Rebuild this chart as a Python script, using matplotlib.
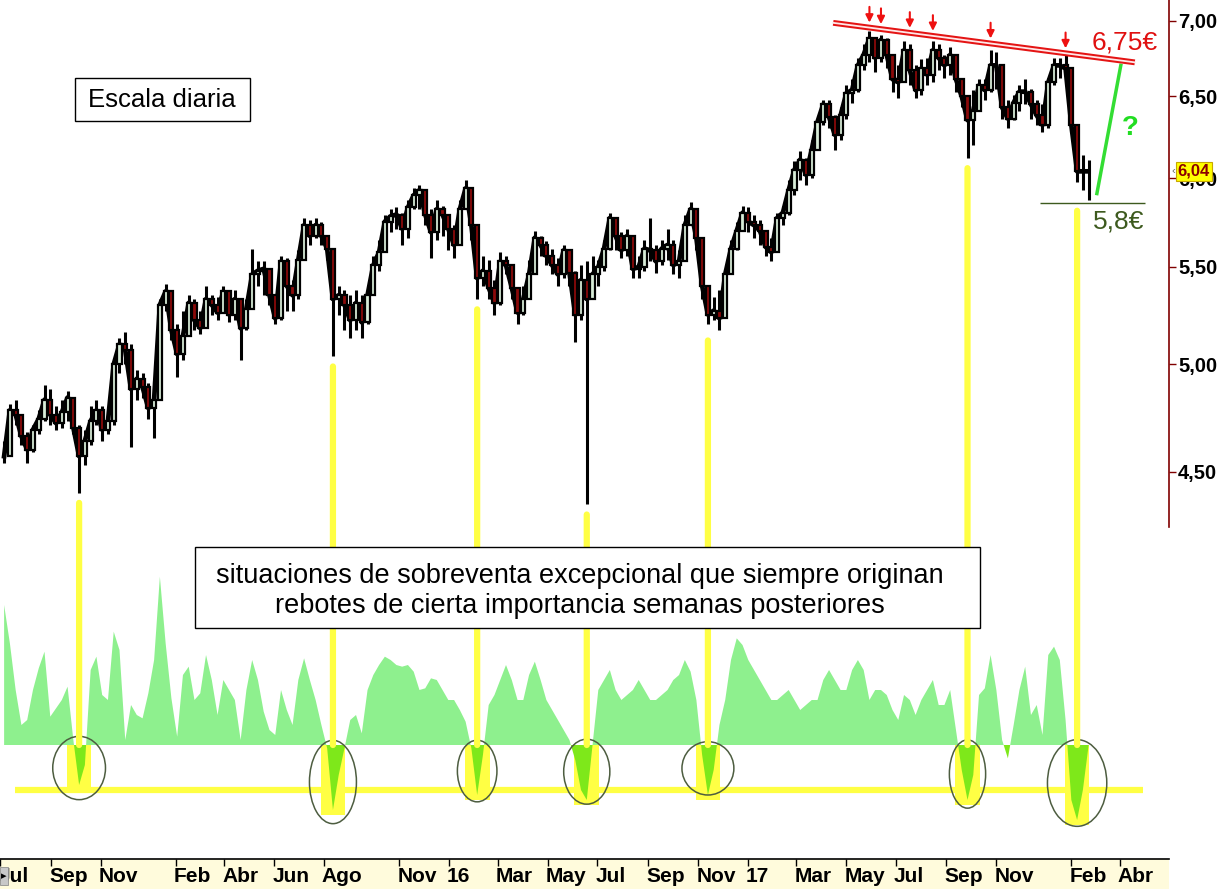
import numpy as np
import pandas as pd
import matplotlib
matplotlib.use('Agg')
import matplotlib.pyplot as plt
import matplotlib.dates as mdates
import matplotlib.transforms as mtransforms
from matplotlib.patches import Ellipse, Rectangle, ConnectionPatch

plt.rcParams['font.family'] = ['Liberation Sans', 'DejaVu Sans']

#%% datos semanales (cotizacion en euros)
cierre = [4.57, 4.78, 4.76, 4.66, 4.60, 4.69, 4.74, 4.83, 4.76, 4.72,
          4.77, 4.84, 4.70, 4.57, 4.64, 4.73, 4.78, 4.69, 4.73, 5.00,
          5.10, 5.07, 4.88, 4.93, 4.89, 4.79, 4.83, 5.30, 5.37, 5.17,
          5.05, 5.14, 5.31, 5.22, 5.18, 5.33, 5.30, 5.26, 5.37, 5.25,
          5.33, 5.18, 5.28, 5.46, 5.48, 5.49, 5.35, 5.23, 5.53, 5.40,
          5.35, 5.54, 5.73, 5.67, 5.73, 5.67, 5.60, 5.33, 5.35, 5.30,
          5.22, 5.31, 5.21, 5.35, 5.51, 5.58, 5.75, 5.78, 5.79, 5.71,
          5.83, 5.90, 5.93, 5.79, 5.69, 5.82, 5.79, 5.71, 5.62, 5.82,
          5.94, 5.73, 5.44, 5.48, 5.39, 5.31, 5.53, 5.51, 5.39, 5.26,
          5.33, 5.46, 5.66, 5.62, 5.56, 5.51, 5.46, 5.59, 5.47, 5.25,
          5.43, 5.33, 5.46, 5.50, 5.60, 5.77, 5.67, 5.59, 5.67, 5.49,
          5.50, 5.60, 5.59, 5.53, 5.60, 5.62, 5.51, 5.53, 5.73, 5.82,
          5.66, 5.40, 5.25, 5.27, 5.23, 5.46, 5.60, 5.70, 5.80, 5.75,
          5.73, 5.70, 5.61, 5.58, 5.77, 5.80, 5.93, 6.05, 6.11, 6.02,
          6.17, 6.34, 6.45, 6.37, 6.26, 6.38, 6.52, 6.54, 6.70, 6.77,
          6.88, 6.75, 6.87, 6.77, 6.61, 6.59, 6.80, 6.67, 6.54, 6.68,
          6.64, 6.80, 6.75, 6.70, 6.77, 6.61, 6.50, 6.35, 6.41, 6.57,
          6.54, 6.70, 6.70, 6.43, 6.36, 6.46, 6.53, 6.53, 6.45, 6.38,
          6.32, 6.59, 6.70, 6.70, 6.68, 6.32, 6.04, 6.04, 6.04]

maximo = [4.64, 4.81, 4.83, 4.76, 4.68, 4.71, 4.78, 4.90, 4.88, 4.80,
          4.83, 4.87, 4.83, 4.71, 4.69, 4.80, 4.83, 4.80, 4.78, 5.02,
          5.13, 5.16, 5.10, 4.97, 4.96, 4.91, 4.92, 5.33, 5.41, 5.38,
          5.20, 5.27, 5.35, 5.33, 5.27, 5.40, 5.35, 5.34, 5.40, 5.38,
          5.38, 5.33, 5.33, 5.60, 5.53, 5.53, 5.47, 5.35, 5.56, 5.55,
          5.43, 5.59, 5.77, 5.76, 5.77, 5.75, 5.67, 5.60, 5.40, 5.38,
          5.35, 5.38, 5.35, 5.38, 5.56, 5.65, 5.79, 5.82, 5.83, 5.80,
          5.87, 5.94, 5.96, 5.90, 5.82, 5.87, 5.84, 5.79, 5.73, 5.87,
          5.99, 5.90, 5.70, 5.56, 5.54, 5.43, 5.58, 5.56, 5.51, 5.38,
          5.40, 5.54, 5.70, 5.67, 5.64, 5.60, 5.55, 5.62, 5.60, 5.48,
          5.51, 5.53, 5.56, 5.54, 5.65, 5.80, 5.77, 5.69, 5.71, 5.67,
          5.56, 5.65, 5.77, 5.62, 5.65, 5.71, 5.65, 5.59, 5.79, 5.86,
          5.82, 5.65, 5.35, 5.34, 5.38, 5.49, 5.65, 5.75, 5.84, 5.83,
          5.79, 5.76, 5.70, 5.66, 5.80, 5.84, 5.99, 6.10, 6.16, 6.12,
          6.23, 6.36, 6.48, 6.48, 6.38, 6.43, 6.57, 6.61, 6.75, 6.84,
          6.93, 6.87, 6.90, 6.88, 6.77, 6.70, 6.86, 6.84, 6.70, 6.74,
          6.75, 6.86, 6.84, 6.77, 6.82, 6.77, 6.61, 6.51, 6.54, 6.61,
          6.61, 6.80, 6.79, 6.64, 6.48, 6.51, 6.57, 6.61, 6.55, 6.48,
          6.45, 6.62, 6.75, 6.75, 6.78, 6.68, 6.32, 6.14, 6.11]

minimo = [4.54, 4.60, 4.71, 4.62, 4.54, 4.59, 4.67, 4.73, 4.71, 4.69,
          4.70, 4.73, 4.67, 4.41, 4.53, 4.62, 4.71, 4.64, 4.67, 4.71,
          4.96, 5.00, 4.61, 4.83, 4.84, 4.74, 4.65, 4.85, 5.27, 5.12,
          4.94, 5.02, 5.15, 5.17, 5.15, 5.20, 5.25, 5.22, 5.26, 5.21,
          5.22, 5.02, 5.17, 5.30, 5.40, 5.35, 5.30, 5.20, 5.22, 5.27,
          5.27, 5.33, 5.56, 5.62, 5.66, 5.62, 5.54, 5.04, 5.25, 5.17,
          5.13, 5.17, 5.13, 5.20, 5.35, 5.48, 5.59, 5.69, 5.71, 5.62,
          5.66, 5.82, 5.82, 5.73, 5.55, 5.65, 5.67, 5.59, 5.55, 5.62,
          5.82, 5.65, 5.33, 5.40, 5.33, 5.25, 5.30, 5.46, 5.33, 5.20,
          5.25, 5.33, 5.48, 5.56, 5.51, 5.46, 5.40, 5.44, 5.40, 5.11,
          5.22, 4.36, 5.38, 5.40, 5.48, 5.59, 5.59, 5.55, 5.56, 5.44,
          5.44, 5.48, 5.53, 5.47, 5.51, 5.54, 5.46, 5.44, 5.53, 5.73,
          5.59, 5.33, 5.20, 5.22, 5.17, 5.33, 5.46, 5.59, 5.70, 5.69,
          5.66, 5.62, 5.56, 5.53, 5.58, 5.73, 5.79, 5.90, 5.99, 5.96,
          6.00, 6.17, 6.32, 6.30, 6.17, 6.23, 6.36, 6.46, 6.53, 6.67,
          6.72, 6.66, 6.72, 6.68, 6.53, 6.49, 6.61, 6.57, 6.49, 6.51,
          6.57, 6.59, 6.67, 6.62, 6.64, 6.53, 6.43, 6.12, 6.20, 6.41,
          6.48, 6.53, 6.55, 6.36, 6.30, 6.35, 6.41, 6.45, 6.36, 6.32,
          6.28, 6.30, 6.57, 6.62, 6.61, 6.28, 5.98, 5.93, 5.87]

# oscilador del panel inferior (0 = linea base)
indicador = [84, 61, 33, 12, 15, 33, 46, 56, 17, 22,
             27, 35, 3, -24, -12, 45, 53, 30, 27, 68,
             57, 3, 24, 18, 16, 31, 51, 101, 61, 28,
             5, 42, 47, 27, 31, 54, 39, 18, 39, 33,
             27, 3, 33, 51, 39, 20, 9, 6, 33, 21,
             12, 39, 52, 39, 27, 12, -2, -39, -18, -2,
             15, 18, 7, 33, 42, 48, 53, 51, 48, 47,
             48, 44, 33, 34, 40, 39, 33, 27, 27, 21,
             14, -2, -30, -6, 24, 30, 39, 48, 39, 27,
             27, 42, 50, 39, 27, 21, 15, 9, 3, -9,
             -27, -33, 0, 33, 39, 45, 33, 27, 30, 33,
             39, 33, 27, 27, 30, 33, 39, 42, 51, 44,
             27, -6, -30, -15, 12, 27, 51, 64, 60, 51,
             45, 39, 33, 27, 27, 30, 33, 27, 21, 24,
             27, 27, 39, 45, 39, 33, 33, 45, 51, 45,
             27, 33, 33, 30, 21, 15, 30, 27, 18, 27,
             33, 39, 24, 24, 33, 9, -15, -33, -18, 30,
             34, 54, 33, 3, -8, 12, 33, 47, 18, 24,
             6, 54, 59, 51, 15, -33, -45, -27, 0]

# semanas de sobreventa y maximos tocados en la resistencia
sobreventa = [13, 57, 82, 101, 122, 167, 186]
picos = [150, 152, 157, 161, 171, 184]

# resistencia y soporte dibujados a mano
resistencia_fechas = ['2017-04-19', '2018-04-20']
resistencia_precios = [6.985, 6.72]
soporte = 5.855
rebote_fechas = ['2018-03-05', '2018-04-03']
rebote_precios = [5.91, 6.70]

meses = ['Jul', 'Sep', 'Nov', 'Feb', 'Abr', 'Jun', 'Ago', 'Nov', '16', 'Mar', 'May',
         'Jul', 'Sep', 'Nov', '17', 'Mar', 'May', 'Jul', 'Sep', 'Nov', 'Feb', 'Abr']
meses_fechas = ['2014-07-01', '2014-09-01', '2014-11-01', '2015-02-01', '2015-04-01',
                '2015-06-01', '2015-08-01', '2015-11-01', '2016-01-01', '2016-03-01',
                '2016-05-01', '2016-07-01', '2016-09-01', '2016-11-01', '2017-01-01',
                '2017-03-01', '2017-05-01', '2017-07-01', '2017-09-01', '2017-11-01',
                '2018-02-01', '2018-04-01']

#%%
W, H = 1220, 889
AMARILLO = '#ffff44'


def fx(px):
    return px / W


def fy(py):
    return 1 - py / H


def d(s):
    return mdates.date2num(pd.Timestamp(s))


fechas = pd.date_range('2014-07-18', periods=len(cierre), freq='7D')
x = mdates.date2num(fechas)
c = np.array(cierre)
hi = np.array(maximo)
lo = np.array(minimo)
ind = np.array(indicador, dtype=float)
o = np.r_[c[0], c[:-1]]

xmin, xmax = d('2014-07-13'), d('2018-05-31 12:00')

fig = plt.figure(figsize=(12.2, 8.89), dpi=100)
ax1 = fig.add_axes([0, fy(527), fx(1169), 527 / H])
ax2 = fig.add_axes([0, fy(858), fx(1169), (858 - 540) / H])
ax3 = fig.add_axes([0, 0, fx(1169), 30 / H])

#%% panel de precios (velas)
ax1.set_yscale('log')
ax1.plot(x, c, color='black', lw=3.4, zorder=1.9)
ax1.vlines(x, np.minimum(lo, np.minimum(o, c)), np.maximum(hi, np.maximum(o, c)),
           color='black', lw=2.2, zorder=2)
colores = np.where(c >= o, '#d8ecd8', '#8b0a0a')
ax1.bar(x, np.abs(c - o), bottom=np.minimum(o, c), width=5.0, color=colores,
        edgecolor='black', linewidth=1.6, zorder=3)

ax1.set_xlim(xmin, xmax)
ax1.set_ylim(4.264, 7.143)
ax1.yaxis.tick_right()
ticks = [4.5, 5.0, 5.5, 6.0, 6.5, 7.0]
ax1.set_yticks(ticks)
ax1.set_yticklabels([f'{t:.2f}'.replace('.', ',') for t in ticks],
                    fontsize=14.5, fontweight='bold')
ax1.yaxis.set_minor_locator(matplotlib.ticker.NullLocator())
ax1.tick_params(axis='y', colors='black', length=5, width=1, pad=1.5)
ax1.tick_params(axis='y', which='major', color='#800000')
ax1.set_xticks([])
for s in ['top', 'left', 'bottom']:
    ax1.spines[s].set_visible(False)
ax1.spines['right'].set_color('#800000')
ax1.spines['right'].set_linewidth(1.2)

# resistencia doble roja
rx = [d(f) for f in resistencia_fechas]
ax1.plot(rx, resistencia_precios, color='#e41414', lw=4.2, zorder=4,
         solid_capstyle='butt')
ax1.plot(rx, resistencia_precios, color='#ffe8e8', lw=1.3, zorder=5)
for i in picos:
    t = (x[i] - rx[0]) / (rx[1] - rx[0])
    r = np.exp(np.log(resistencia_precios[0]) * (1 - t) + np.log(resistencia_precios[1]) * t)
    ax1.annotate('', xy=(x[i], r * 1.0049), xytext=(x[i], r * 1.0205),
                 arrowprops=dict(arrowstyle='-|>', color='#ee1111', lw=1.5,
                                 mutation_scale=11, shrinkA=0, shrinkB=0), zorder=6)

ax1.text(d('2018-02-27'), 6.85, '6,75€', color='#e01010', fontsize=19,
         ha='left', va='center', zorder=6)
ax1.hlines(soporte, d('2017-12-26'), d('2018-05-02'), color='#3d5a1e', lw=1)
ax1.text(d('2018-02-28'), 5.75, '5,8€', color='#3d5a1e', fontsize=19,
         ha='left', va='center')
ax1.plot([d(f) for f in rebote_fechas], rebote_precios, color='#33dd33', lw=2.5)
ax1.text(d('2018-04-14'), 6.30, '?', color='#22dd22', fontsize=20,
         fontweight='bold', ha='center', va='center')

# ultimo precio en la escala
trans = mtransforms.blended_transform_factory(ax1.transAxes, ax1.transData)
ax1.text(1.0075, c[-1], f'{c[-1]:.2f}'.replace('.', ','), transform=trans,
         fontsize=12, fontweight='bold', color='#8b0000', ha='left', va='center',
         bbox=dict(boxstyle='square,pad=0.12', fc='#ffff00', ec='#c8a800', lw=0.8),
         zorder=10, clip_on=False)
ax1.text(1.002, c[-1], '‹', transform=trans, fontsize=8, color='#666666',
         ha='left', va='center', clip_on=False)

#%% panel del oscilador
ax2.set_xlim(xmin, xmax)
ax2.set_ylim(-67.8, 123)
ax2.axis('off')
ax2.fill_between(x, 0, ind, where=ind >= 0, interpolate=True, color='#8ef08e',
                 lw=0, zorder=2)
ax2.fill_between(x, 0, ind, where=ind <= 0, interpolate=True, color='#7ee81a',
                 lw=0, zorder=4)
ax2.hlines(-27, d('2014-07-31'), d('2018-04-30'), color=AMARILLO, lw=4.5, zorder=3)

elipse_centro = [-13.8, -22.2, -15.6, -16.0, -14.0, -17.4, -22.8]
elipse_alto = [38, 50, 37, 39, 32, 41, 52]
elipse_ancho = [64, 57, 48, 56, 63, 44, 72]
for k, i in enumerate(sobreventa):
    prof = ind[max(i - 2, 0):i + 3].min() - 3
    ax2.bar(x[i], prof, bottom=0, width=30, color=AMARILLO, zorder=3)
    ax2.add_patch(Ellipse((x[i], elipse_centro[k]), elipse_ancho[k], elipse_alto[k],
                          fill=False, ec='#4d5d40', lw=1.1, zorder=5))
    techo = lo[max(i - 2, 0):i + 3].min() * 0.99
    con = ConnectionPatch(xyA=(x[i], techo), coordsA=ax1.transData,
                          xyB=(x[i], 0), coordsB=ax2.transData,
                          color=AMARILLO, lw=4.5, zorder=1.5)
    fig.add_artist(con)

#%% tira de fechas
ax3.set_facecolor('#fffbdc')
ax3.set_xlim(xmin, xmax)
ax3.set_ylim(0, 1)
for s in ['left', 'right', 'bottom']:
    ax3.spines[s].set_visible(False)
ax3.spines['top'].set_linewidth(1.2)
ax3.set_yticks([])
ax3.set_xticks([d(f) for f in meses_fechas])
ax3.tick_params(axis='x', direction='in', top=True, bottom=False,
                labeltop=False, labelbottom=False, length=5, width=1)
for m, f in zip(meses, meses_fechas):
    ax3.text(d(f) - 2, 0.42, m, fontsize=15, fontweight='bold',
             ha='left', va='center', clip_on=True)
ax3.add_patch(Rectangle((0, 0.12), 8 / 1169, 0.6, transform=ax3.transAxes,
                        fc='#c8c8c8', ec='#909090', lw=0.6, zorder=5))
ax3.text(4 / 1169, 0.42, '▸', transform=ax3.transAxes, fontsize=8,
         ha='center', va='center', zorder=6)

#%% recuadros de texto
fig.add_artist(Rectangle((fx(75), fy(121)), fx(175), 43 / H, transform=fig.transFigure,
                         fc='white', ec='black', lw=1, zorder=10))
fig.text(fx(162), fy(100), 'Escala diaria', ha='center', va='center',
         fontsize=18.5, zorder=11)

fig.add_artist(Rectangle((fx(195), fy(628)), fx(785), 81 / H, transform=fig.transFigure,
                         fc='white', ec='black', lw=1, zorder=10))
fig.text(fx(580), fy(576), 'situaciones de sobreventa excepcional que siempre originan',
         ha='center', va='center', fontsize=19.5, zorder=11)
fig.text(fx(580), fy(606), 'rebotes de cierta importancia semanas posteriores',
         ha='center', va='center', fontsize=19.5, zorder=11)

fig.savefig('out.png', dpi=100)
